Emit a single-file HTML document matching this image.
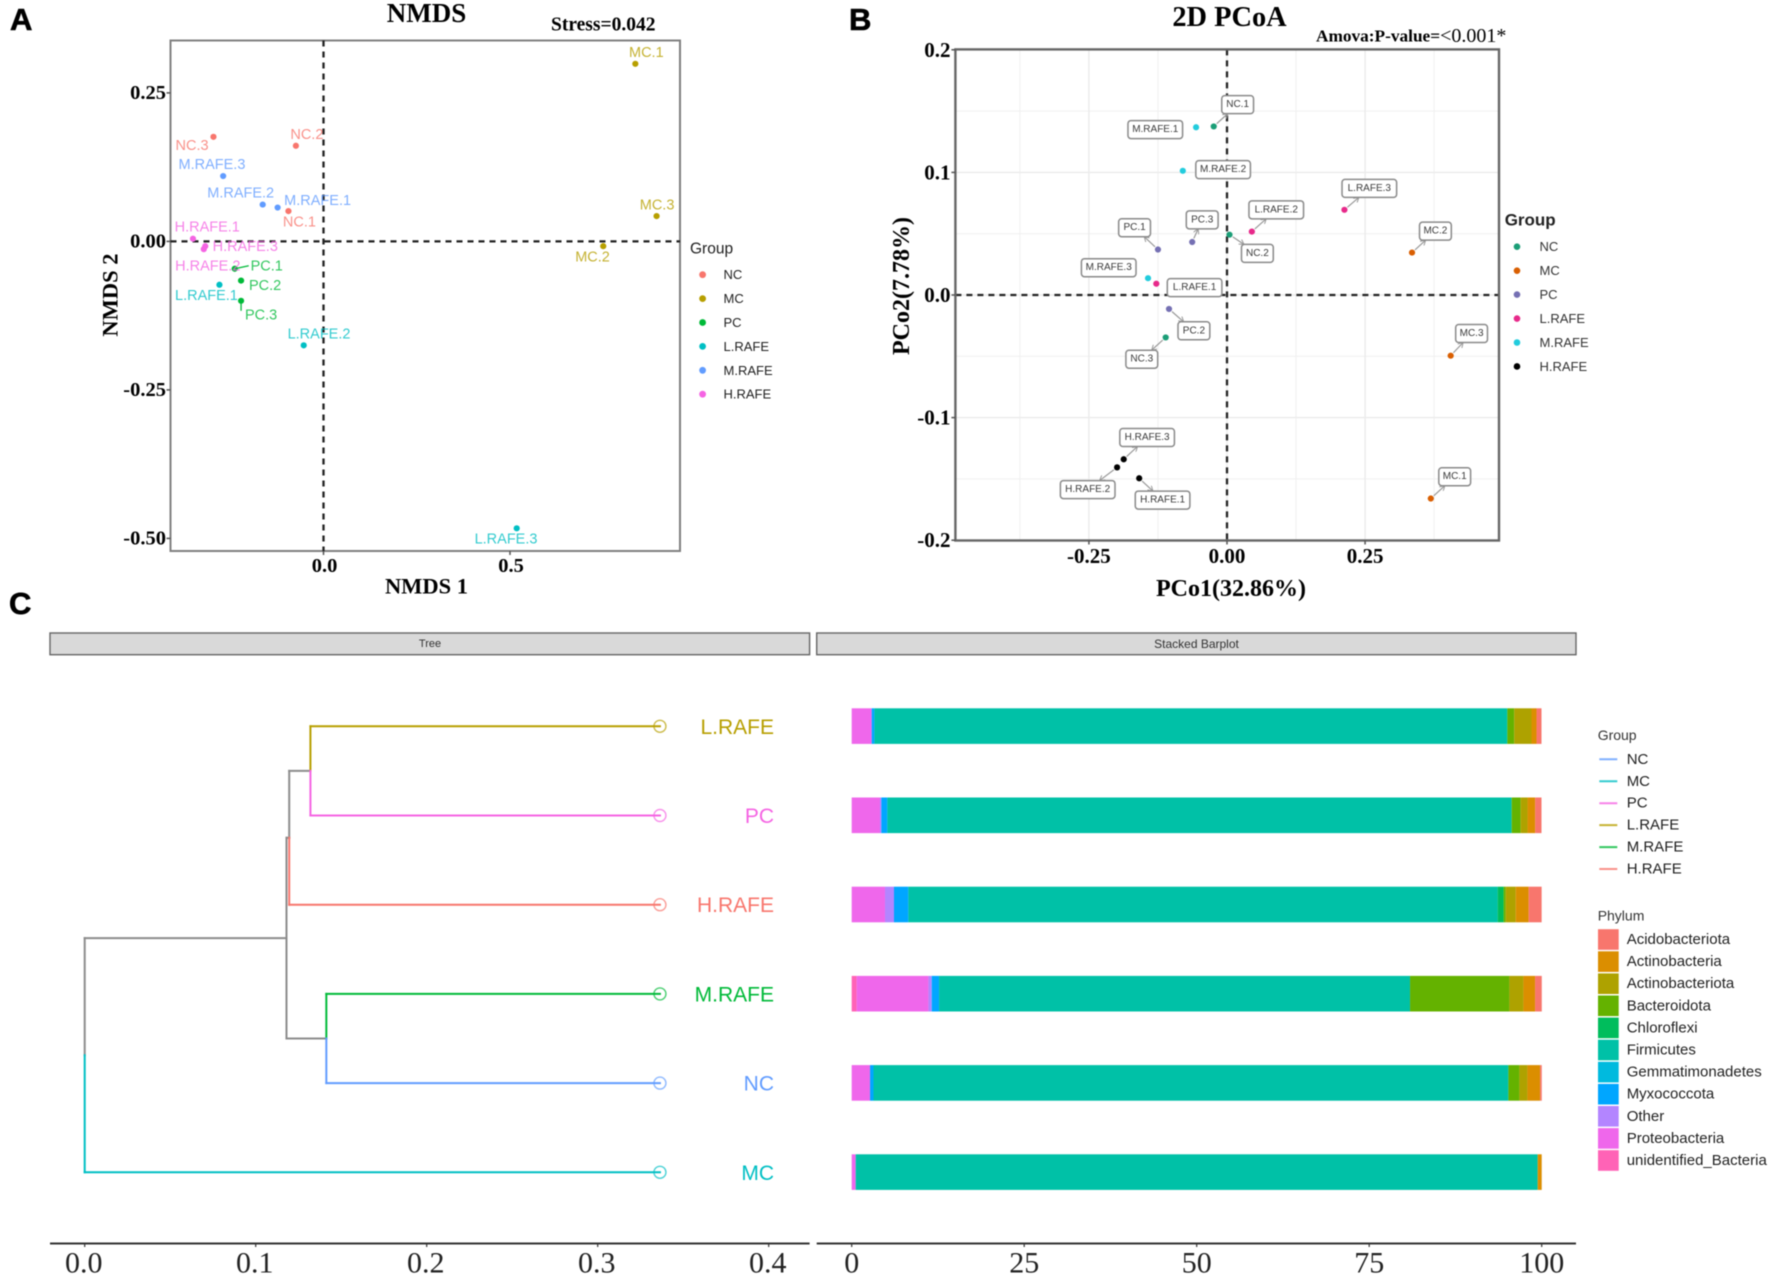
<!DOCTYPE html>
<html lang="en">
<head>
<meta charset="utf-8">
<title>NMDS, PCoA and stacked barplot figure</title>
<style>
html,body{margin:0;padding:0;background:#fff;width:1772px;height:1275px;overflow:hidden}
svg{display:block;filter:blur(0.45px)}
text{font-family:"Liberation Sans",sans-serif}
.serif{font-family:"Liberation Serif",serif}
</style>
</head>
<body>
<svg id="fig" xmlns="http://www.w3.org/2000/svg" width="1772" height="1275" viewBox="0 0 1772 1275">
<defs>
<marker id="arrow" markerWidth="6" markerHeight="6" refX="5" refY="3" orient="auto" markerUnits="userSpaceOnUse">
<path d="M0,0 L5,3 L0,6" fill="none" stroke="#999" stroke-width="1"/>
</marker>
</defs>
<rect x="0" y="0" width="1772" height="1275" fill="#fff"/>
<text x="10" y="30" font-size="31" font-weight="700" stroke="#000" stroke-width="0.6">A</text>
<text x="849" y="30" font-size="31" font-weight="700" stroke="#000" stroke-width="0.6">B</text>
<text x="9" y="614" font-size="31" font-weight="700" stroke="#000" stroke-width="0.6">C</text>

<text class="serif" x="426.5" y="13" font-size="27" font-weight="700" text-anchor="middle" dominant-baseline="central">NMDS</text>
<text class="serif" x="551" y="25" font-size="19.5" font-weight="700" dominant-baseline="central">Stress=0.042</text>
<text class="serif" x="426.5" y="586" font-size="22.5" font-weight="700" text-anchor="middle" dominant-baseline="central">NMDS 1</text>
<text class="serif" transform="translate(110,295) rotate(-90)" font-size="22.5" font-weight="700" text-anchor="middle" dominant-baseline="central">NMDS 2</text>

<text class="serif" x="1229.5" y="17.5" font-size="28.4" font-weight="700" text-anchor="middle" dominant-baseline="central">2D PCoA</text>
<text class="serif" x="1316" y="36" font-size="17.3" font-weight="700" dominant-baseline="central">Amova:P-value=<tspan font-weight="400" font-size="20">&lt;0.001*</tspan></text>
<text class="serif" x="1231" y="589" font-size="24" font-weight="700" text-anchor="middle" dominant-baseline="central">PCo1(32.86%)</text>
<text class="serif" transform="translate(902,286) rotate(-90)" font-size="24" font-weight="700" text-anchor="middle" dominant-baseline="central">PCo2(7.78%)</text>

<rect x="50" y="633" width="759.6" height="21.7" fill="#d9d9d9" stroke="#666" stroke-width="1.4"/>
<text x="430" y="644" font-size="11" fill="#333" text-anchor="middle" dominant-baseline="central">Tree</text>
<rect x="816.7" y="633" width="759.3" height="21.7" fill="#d9d9d9" stroke="#666" stroke-width="1.4"/>
<text x="1196.5" y="644" font-size="12" fill="#333" text-anchor="middle" dominant-baseline="central">Stacked Barplot</text>
<g id="layer"></g>
</svg>
<script>
// ---------- NMDS data ----------
const nmdsSamples = ['NC.1','NC.2','NC.3','MC.1','MC.2','MC.3','PC.1','PC.2','PC.3','L.RAFE.1','L.RAFE.2','L.RAFE.3','M.RAFE.1','M.RAFE.2','M.RAFE.3','H.RAFE.1','H.RAFE.2','H.RAFE.3'];
const nmdsX = [-0.094,-0.074,-0.295,0.836,0.750,0.893,-0.238,-0.221,-0.221,-0.279,-0.053,0.518,-0.123,-0.163,-0.269,-0.350,-0.321,-0.317];
const nmdsY = [0.051,0.161,0.176,0.299,-0.008,0.0426,-0.046,-0.066,-0.100,-0.073,-0.175,-0.483,0.057,0.062,0.110,0.0045,-0.013,-0.008];
const nmdsXTicks = [0, 0.5];
const nmdsXTickLabels = ['0.0','0.5'];
const nmdsYTicks = [0.25, 0, -0.25, -0.5];
const nmdsYTickLabels = ['0.25','0.00','-0.25','-0.50'];
const groupNames = ['NC','MC','PC','L.RAFE','M.RAFE','H.RAFE'];

// ---------- PCoA data ----------
const pcoaSamples = ['NC.1','NC.2','NC.3','MC.1','MC.2','MC.3','PC.1','PC.2','PC.3','L.RAFE.1','L.RAFE.2','L.RAFE.3','M.RAFE.1','M.RAFE.2','M.RAFE.3','H.RAFE.1','H.RAFE.2','H.RAFE.3'];
const pcoaX = [-0.024,0.0045,-0.111,0.369,0.335,0.405,-0.125,-0.105,-0.063,-0.128,0.045,0.2126,-0.056,-0.080,-0.143,-0.159,-0.199,-0.187];
const pcoaY = [0.1375,0.0492,-0.0346,-0.166,0.0346,-0.0495,0.0371,-0.0114,0.0432,0.0092,0.0517,0.0695,0.1368,0.1013,0.0137,-0.1495,-0.1406,-0.134];
const pcoaXTicks = [-0.25, 0, 0.25];
const pcoaXTickLabels = ['-0.25','0.00','0.25'];
const pcoaYTicks = [0.2, 0.1, 0, -0.1, -0.2];
const pcoaYTickLabels = ['0.2','0.1','0.0','-0.1','-0.2'];
const pcoaMinorX = [-0.375,-0.125,0.125,0.375];
const pcoaMinorY = [0.15,0.05,-0.05,-0.15];

// ---------- Tree data ----------
const treeTips = ['L.RAFE','PC','H.RAFE','M.RAFE','NC','MC'];
const tipDepth = 0.3364;
const depthInner = 0.118;
const depthUpper = 0.1196;
const depthLPC = 0.132;
const depthMNC = 0.1413;
const treeXTicks = [0, 0.1, 0.2, 0.3, 0.4];
const treeXTickLabels = ['0.0','0.1','0.2','0.3','0.4'];

// ---------- Stacked bar data ----------
const phyla = ['Acidobacteriota','Actinobacteria','Actinobacteriota','Bacteroidota','Chloroflexi','Firmicutes','Gemmatimonadetes','Myxococcota','Other','Proteobacteria','unidentified_Bacteria'];
const stackLRAFE = [0.72,0.73,2.5,1.0,0,91.73,0,0.39,0,2.9,0];
const stackPC = [0.92,1.1,1.0,1.3,0,90.48,0,0.87,0.2,4.1,0];
const stackHRAFE = [1.88,1.88,1.45,0.3,0.86,85.41,0,2.08,1.3,4.83,0];
const stackMRAFE = [0.97,1.69,2.03,14.4,0,68.26,0,1.06,0.48,10.4,0.72];
const stackNC = [0.24,1.84,1.16,1.6,0,92.01,0,0.5,0,2.66,0];
const stackMC = [0,0.58,0,0,0,98.84,0,0,0,0.58,0];
const barXTicks = [0,25,50,75,100];
const barXTickLabels = ['0','25','50','75','100'];

// ---------- Styling / layout (not data) ----------
const hue = {'NC':'#F8766D','MC':'#B79F00','PC':'#00BA38','L.RAFE':'#00BFC4','M.RAFE':'#619CFF','H.RAFE':'#F564E3'};
const dark = {'NC':'#1B9E77','MC':'#D95F02','PC':'#7570B3','L.RAFE':'#E7298A','M.RAFE':'#22CCDD','H.RAFE':'#000000'};
const treeColor = {'L.RAFE':'#B79F00','PC':'#F564E3','H.RAFE':'#F8766D','M.RAFE':'#00BA38','NC':'#619CFF','MC':'#00BFC4'};
const treeGrey = '#8c8c8c';
const phylaColors = ['#F8766D','#DB8E00','#AEA200','#64B200','#00BD5C','#00C1A7','#00BADE','#00A6FF','#B385FF','#EF67EB','#FF63B6'];
const nmdsLabelShift = {'MC.1':[11,-10.7],'MC.3':[0.5,-10.7],'MC.2':[-10.7,11.5],'NC.2':[11,-10.7],'NC.3':[-21.4,9.2],'NC.1':[11,11.5],'M.RAFE.3':[-11.2,-11],'M.RAFE.2':[-22,-11],'M.RAFE.1':[40,-6.5],'H.RAFE.1':[14.3,-11],'H.RAFE.3':[40,1],'H.RAFE.2':[4,17.2],'PC.1':[32,-2.3],'PC.2':[24,5.4],'PC.3':[20,14.5],'L.RAFE.1':[-13,11],'L.RAFE.2':[15.3,-10.7],'L.RAFE.3':[-10.7,11]};
const nmdsLeaderEnd = {'PC.1':[14,-3],'PC.3':[0,10]};
const pcoaLabelShift = {'NC.1':[23.9,-21.8],'M.RAFE.1':[-40.8,2.3],'M.RAFE.2':[40.3,-1.2],'L.RAFE.3':[24.9,-21.4],'L.RAFE.2':[24.4,-21.8],'PC.3':[10,-22.2],'NC.2':[27.9,18.7],'PC.1':[-23.4,-21.8],'MC.2':[23.4,-21.4],'M.RAFE.3':[-39.3,-10.5],'L.RAFE.1':[38.3,3.9],'PC.2':[24.9,21.8],'NC.3':[-23.9,21.8],'MC.3':[20.9,-22.2],'H.RAFE.3':[23.4,-21.8],'H.RAFE.2':[-29.4,22.2],'H.RAFE.1':[23.4,21.8],'MC.1':[23.9,-21.8]};
const pcoaNoLeader = ['M.RAFE.1','M.RAFE.2','M.RAFE.3','L.RAFE.1'];

// ---------- Axis functions ----------
const nmdsSx = v => 323.5 + 373 * v;
const nmdsSy = v => 241.4 - 594 * v;
const pcoaSx = v => 1227 + 552.3 * v;
const pcoaSy = v => 295 - 1226 * v;
const treeSx = v => 84.7 + 1710 * v;
const barSx = v => 851.7 + 6.9 * v;
const rowY = i => 726.3 + 89.2 * i;

const layer = document.getElementById('layer');
const NS = 'http://www.w3.org/2000/svg';
function el(tag, attrs, text) {
  const n = document.createElementNS(NS, tag);
  for (const k in attrs) n.setAttribute(k, attrs[k]);
  if (text !== undefined) n.textContent = text;
  layer.appendChild(n);
  return n;
}
const groupOf = s => s.replace(/\.\d$/, '');
const slug = s => s.toLowerCase().replace(/[^a-z0-9]+/g, '-');

// ---------- Panel A ----------
(function () {
  const L = 170.5, R = 680, T = 40.5, B = 551;
  const frame = el('rect', {x: L, y: T, width: R - L, height: B - T, fill: 'none', stroke: '#808080', 'stroke-width': 2});
  
  
  const h0 = el('line', {x1: L, x2: R, y1: nmdsSy(0), y2: nmdsSy(0), stroke: '#222', 'stroke-width': 2.3, 'stroke-dasharray': '6 5'});
  
  
  const v0 = el('line', {x1: nmdsSx(0), x2: nmdsSx(0), y1: T, y2: B, stroke: '#222', 'stroke-width': 2.3, 'stroke-dasharray': '6 5'});
  
  
  nmdsXTicks.forEach((t, i) => {
    const m = el('line', {x1: nmdsSx(t), x2: nmdsSx(t), y1: B, y2: B + 4, stroke: '#555', 'stroke-width': 1.5});
    
    
    const l = el('text', {x: nmdsSx(t) + 1, y: 566, 'font-size': 20.5, 'font-weight': 700, class: 'serif', 'text-anchor': 'middle', 'dominant-baseline': 'central'}, nmdsXTickLabels[i]);
    
    
  });
  nmdsYTicks.forEach((t, i) => {
    const m = el('line', {x1: L - 4, x2: L, y1: nmdsSy(t), y2: nmdsSy(t), stroke: '#555', 'stroke-width': 1.5});
    
    
    const l = el('text', {x: 166, y: nmdsSy(t), 'font-size': 20.5, 'font-weight': 700, class: 'serif', 'text-anchor': 'end', 'dominant-baseline': 'central'}, nmdsYTickLabels[i]);
    
    
  });
  nmdsSamples.forEach((s, i) => {
    const x = nmdsSx(nmdsX[i]), y = nmdsSy(nmdsY[i]), c = hue[groupOf(s)];
    if (nmdsLeaderEnd[s]) {
      const ld = el('line', {x1: x, y1: y, x2: x + nmdsLeaderEnd[s][0], y2: y + nmdsLeaderEnd[s][1], stroke: c, 'stroke-width': 1.3});
      
      
    }
    const p = el('circle', {cx: x, cy: y, r: 3.1, fill: c});
    
    
    const sh = nmdsLabelShift[s];
    const t = el('text', {x: x + sh[0], y: y + sh[1], fill: c, 'font-size': 14.5, 'text-anchor': 'middle', 'dominant-baseline': 'central', opacity: 0.8}, s);
    
    
  });
  const title = el('text', {x: 690, y: 249, 'font-size': 15.5, fill: '#222', 'dominant-baseline': 'central'}, 'Group');
  
  
  groupNames.forEach((g, i) => {
    const y = 274.7 + 23.9 * i;
    const d = el('circle', {cx: 702.6, cy: y, r: 3.4, fill: hue[g]});
    
    
    const t = el('text', {x: 723.5, y: y, 'font-size': 13, fill: '#222', 'dominant-baseline': 'central'}, g);
    
    
  });
})();

// ---------- Panel B ----------
(function () {
  const L = 955.4, R = 1499, T = 49.4, B = 540.5;
  pcoaMinorX.forEach(v => {
    const g = el('line', {x1: pcoaSx(v), x2: pcoaSx(v), y1: T, y2: B, stroke: '#f0f0f0', 'stroke-width': 1});
    
    
  });
  pcoaMinorY.forEach(v => {
    const g = el('line', {x1: L, x2: R, y1: pcoaSy(v), y2: pcoaSy(v), stroke: '#f0f0f0', 'stroke-width': 1});
    
    
  });
  pcoaXTicks.forEach(v => {
    const g = el('line', {x1: pcoaSx(v), x2: pcoaSx(v), y1: T, y2: B, stroke: '#ebebeb', 'stroke-width': 1.4});
    
    
  });
  pcoaYTicks.forEach(v => {
    const g = el('line', {x1: L, x2: R, y1: pcoaSy(v), y2: pcoaSy(v), stroke: '#ebebeb', 'stroke-width': 1.4});
    
    
  });
  const h0 = el('line', {x1: L, x2: R, y1: pcoaSy(0), y2: pcoaSy(0), stroke: '#222', 'stroke-width': 2.3, 'stroke-dasharray': '6 5'});
  
  
  const v0 = el('line', {x1: pcoaSx(0), x2: pcoaSx(0), y1: T, y2: B, stroke: '#222', 'stroke-width': 2.3, 'stroke-dasharray': '6 5'});
  
  
  const frame = el('rect', {x: L, y: T, width: R - L, height: B - T, fill: 'none', stroke: '#666', 'stroke-width': 2.4});
  
  
  pcoaXTicks.forEach((t, i) => {
    const m = el('line', {x1: pcoaSx(t), x2: pcoaSx(t), y1: B, y2: B + 4, stroke: '#555', 'stroke-width': 1.5});
    
    
    const l = el('text', {x: pcoaSx(t), y: 556, 'font-size': 21, 'font-weight': 700, class: 'serif', 'text-anchor': 'middle', 'dominant-baseline': 'central'}, pcoaXTickLabels[i]);
    
    
  });
  pcoaYTicks.forEach((t, i) => {
    const m = el('line', {x1: L - 4, x2: L, y1: pcoaSy(t), y2: pcoaSy(t), stroke: '#555', 'stroke-width': 1.5});
    
    
    const l = el('text', {x: 950.5, y: pcoaSy(t), 'font-size': 21, 'font-weight': 700, class: 'serif', 'text-anchor': 'end', 'dominant-baseline': 'central'}, pcoaYTickLabels[i]);
    
    
  });
  pcoaSamples.forEach((s, i) => {
    const x = pcoaSx(pcoaX[i]), y = pcoaSy(pcoaY[i]), c = dark[groupOf(s)];
    const sh = pcoaLabelShift[s];
    const cx = x + sh[0], cy = y + sh[1];
    const w = s.length * 5.7 + 9, h = 18;
    if (pcoaNoLeader.indexOf(s) < 0) {
      const k = Math.min((w / 2) / Math.max(Math.abs(sh[0]), 0.01), (h / 2) / Math.max(Math.abs(sh[1]), 0.01));
      const d = Math.hypot(sh[0], sh[1]);
      const ld = el('line', {x1: x + sh[0] / d * 4, y1: y + sh[1] / d * 4, x2: cx - sh[0] * k, y2: cy - sh[1] * k, stroke: '#999', 'stroke-width': 1.2, 'marker-end': 'url(#arrow)'});
      
      
    }
    const box = el('rect', {x: cx - w / 2, y: cy - h / 2, width: w, height: h, rx: 3, fill: '#fff', stroke: '#8a8a8a', 'stroke-width': 1.5});
    
    
    const t = el('text', {x: cx, y: cy, 'font-size': 10, fill: '#3a3a3a', 'text-anchor': 'middle', 'dominant-baseline': 'central'}, s);
    
    
    const p = el('circle', {cx: x, cy: y, r: 3.1, fill: c});
    
    
  });
  const title = el('text', {x: 1504.7, y: 220, 'font-size': 17, 'font-weight': 700, fill: '#222', 'dominant-baseline': 'central'}, 'Group');
  
  
  groupNames.forEach((g, i) => {
    const y = 246.7 + 23.95 * i;
    const d = el('circle', {cx: 1517, cy: y, r: 3.3, fill: dark[g]});
    
    
    const t = el('text', {x: 1539.5, y: y, 'font-size': 13, fill: '#333', 'dominant-baseline': 'central'}, g);
    
    
  });
})();

// ---------- Panel C : tree ----------
(function () {
  const seg = (x1, y1, x2, y2, c, name) => {
    const s = el('line', {x1: x1, y1: y1, x2: x2, y2: y2, stroke: c, 'stroke-width': 2, 'stroke-linecap': 'square'});
    
    
  };
  const tipY = g => rowY(treeTips.indexOf(g));
  const yLPC = (tipY('L.RAFE') + tipY('PC')) / 2;
  const yUpper = (yLPC + tipY('H.RAFE')) / 2;
  const yMNC = (tipY('M.RAFE') + tipY('NC')) / 2;
  const yInner = (yUpper + yMNC) / 2;
  const yRootMid = (yInner + tipY('MC')) / 2;
  const X = treeSx;
  seg(X(0), yInner, X(0), yRootMid, treeGrey, 'tree-root-branch-upper');
  seg(X(0), yRootMid, X(0), tipY('MC'), treeColor['MC'], 'tree-root-branch-lower');
  seg(X(0), yInner, X(depthInner), yInner, treeGrey, 'tree-inner-stem');
  seg(X(depthInner), yUpper, X(depthInner), yMNC, treeGrey, 'tree-inner-spine');
  seg(X(depthInner), yUpper, X(depthUpper), yUpper, treeGrey, 'tree-upper-stem');
  seg(X(depthUpper), yLPC, X(depthUpper), yUpper, treeGrey, 'tree-upper-spine-top');
  seg(X(depthUpper), yUpper, X(depthUpper), tipY('H.RAFE'), treeColor['H.RAFE'], 'tree-upper-spine-bottom');
  seg(X(depthUpper), yLPC, X(depthLPC), yLPC, treeGrey, 'tree-lrafe-pc-stem');
  seg(X(depthLPC), yLPC, X(depthLPC), tipY('L.RAFE'), treeColor['L.RAFE'], 'tree-lrafe-spine');
  seg(X(depthLPC), yLPC, X(depthLPC), tipY('PC'), treeColor['PC'], 'tree-pc-spine');
  seg(X(depthInner), yMNC, X(depthMNC), yMNC, treeGrey, 'tree-mrafe-nc-stem');
  seg(X(depthMNC), yMNC, X(depthMNC), tipY('M.RAFE'), treeColor['M.RAFE'], 'tree-mrafe-spine');
  seg(X(depthMNC), yMNC, X(depthMNC), tipY('NC'), treeColor['NC'], 'tree-nc-spine');
  const starts = {'L.RAFE': depthLPC, 'PC': depthLPC, 'H.RAFE': depthUpper, 'M.RAFE': depthMNC, 'NC': depthMNC, 'MC': 0};
  treeTips.forEach(g => {
    const y = tipY(g), c = treeColor[g];
    seg(X(starts[g]), y, X(tipDepth), y, c, 'tree-branch-' + slug(g));
    const o = el('circle', {cx: X(tipDepth), cy: y, r: 6, fill: 'none', stroke: c, 'stroke-width': 1.4, opacity: 0.7});
    
    
    const t = el('text', {x: 774, y: y + 1, 'font-size': 21, fill: c, 'text-anchor': 'end', 'dominant-baseline': 'central'}, g);
    
    
  });
  const ax = el('line', {x1: 50, x2: 809.6, y1: 1243.5, y2: 1243.5, stroke: '#333', 'stroke-width': 2});
  
  
  treeXTicks.forEach((v, i) => {
    const m = el('line', {x1: X(v), x2: X(v), y1: 1243.5, y2: 1247, stroke: '#333', 'stroke-width': 1.2});
    
    
    const t = el('text', {x: X(v) - 1, y: 1272.5, 'font-size': 30, class: 'serif', fill: '#222', 'text-anchor': 'middle'}, treeXTickLabels[i]);
    
    
  });
})();

// ---------- Panel C : stacked bars ----------
const barRows = [stackLRAFE, stackPC, stackHRAFE, stackMRAFE, stackNC, stackMC];
(function () {
  barRows.forEach((vals, r) => {
    let cum = 0;
    for (let k = phyla.length - 1; k >= 0; k--) {
      const v = vals[k];
      if (v > 0) {
        const seg = el('rect', {x: barSx(cum), y: rowY(r) - 18, width: barSx(cum + v) - barSx(cum), height: 35.6, fill: phylaColors[k]});
        
        
      }
      cum += v;
    }
  });
  const ax = el('line', {x1: 816.7, x2: 1576, y1: 1243.5, y2: 1243.5, stroke: '#333', 'stroke-width': 2});
  
  
  barXTicks.forEach((v, i) => {
    const m = el('line', {x1: barSx(v), x2: barSx(v), y1: 1243.5, y2: 1247, stroke: '#333', 'stroke-width': 1.2});
    
    
    const t = el('text', {x: barSx(v), y: 1272.5, 'font-size': 30, class: 'serif', fill: '#222', 'text-anchor': 'middle'}, barXTickLabels[i]);
    
    
  });
  // Group legend
  const gt = el('text', {x: 1597.7, y: 735, 'font-size': 14, fill: '#333', 'dominant-baseline': 'central'}, 'Group');
  
  
  groupNames.forEach((g, i) => {
    const y = 759.3 + 21.95 * i;
    const ln = el('line', {x1: 1599.3, x2: 1617.3, y1: y, y2: y, stroke: treeColor[g], 'stroke-width': 2, opacity: 0.8});
    
    
    const t = el('text', {x: 1626.7, y: y, 'font-size': 15, fill: '#222', 'dominant-baseline': 'central'}, g);
    
    
  });
  // Phylum legend
  const pt = el('text', {x: 1597.7, y: 915.3, 'font-size': 14, fill: '#333', 'dominant-baseline': 'central'}, 'Phylum');
  
  
  phyla.forEach((p, i) => {
    const y = 939.5 + 22.1 * i;
    const sw = el('rect', {x: 1598, y: y - 10.3, width: 20.7, height: 20.6, fill: phylaColors[i]});
    
    
    const t = el('text', {x: 1626.7, y: y, 'font-size': 15, fill: '#222', 'dominant-baseline': 'central'}, p);
    
    
  });
})();
</script>
</body>
</html>
